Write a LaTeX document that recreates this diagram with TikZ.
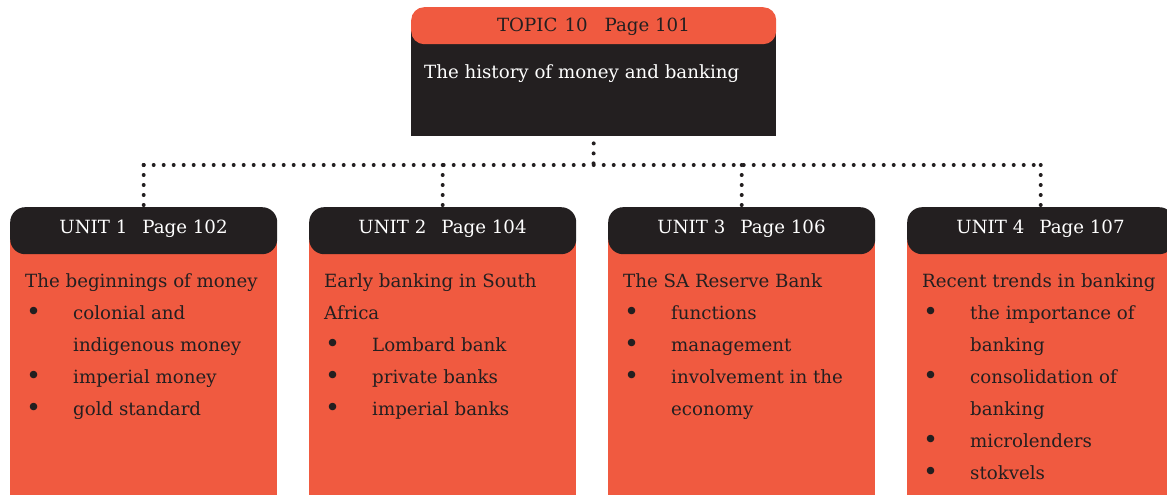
\documentclass[tikz,border=0pt]{standalone}
\usepackage{fontspec}
\setmainfont{DejaVu Serif}
\definecolor{orng}{HTML}{F05A40}
\definecolor{blk}{HTML}{231F20}
\newcommand{\bul}{\makebox[48pt][l]{\hspace{1pt}\raisebox{-1pt}{\scalebox{1.4}{\textbullet}}}}
\newcommand{\cont}{\hspace*{48pt}}
\begin{document}
\begin{tikzpicture}[x=1pt,y=-1pt,
  txt/.style={inner sep=0pt, font=\fontsize{18.2}{32}\selectfont},
  unithead/.style={fill=blk, rounded corners=15pt, minimum width=267pt, minimum height=47pt, anchor=north west, inner sep=0pt},
  unitbody/.style={fill=orng, minimum width=267pt, minimum height=270pt, anchor=north west, inner sep=0pt},
  headtxt/.style={txt, text=white, anchor=base},
  bodytxt/.style={txt, text=blk, anchor=base west, align=left},
  dotline/.style={draw=blk, line width=4pt, line cap=round, dash pattern=on 0pt off 10pt}]
\useasboundingbox (0,0) rectangle (1167,495);
\clip (0,0) rectangle (1167,495);
% topic
\node[fill=blk, minimum width=365pt, minimum height=108pt, anchor=north west, inner sep=0pt] (topicbody) at (411,28) {};
\node[fill=orng, rounded corners=13pt, minimum width=365pt, minimum height=37pt, anchor=north west, inner sep=0pt] (topichead) at (411,7) {};
\node[txt, text=blk, anchor=base] (topiclabel) at (593.5,32) {TOPIC\hspace{7pt}10\hspace{17pt}Page 101};
\node[txt, text=white, anchor=base west] (topictitle) at (424,78) {The history of money and banking};
% units
\foreach \i/\x in {1/10,2/309,3/608,4/907}{
  \node[unitbody] (u\i body) at (\x,235) {};
  \node[unithead] (u\i head) at (\x,207) {};
}
\node[headtxt] (u1label) at (143.5,233) {UNIT 1\hspace{15pt}Page 102};
\node[headtxt] (u2label) at (442.5,233) {UNIT 2\hspace{15pt}Page 104};
\node[headtxt] (u3label) at (741.5,233) {UNIT 3\hspace{15pt}Page 106};
\node[headtxt] (u4label) at (1040.5,233) {UNIT 4\hspace{15pt}Page 107};
% anchor base west = baseline of the last line
\node[bodytxt] (u1text) at (25,415) {The beginnings of money\\ \bul colonial and\\ \cont indigenous money\\ \bul imperial money\\ \bul gold standard};
\node[bodytxt] (u2text) at (324,415) {Early banking in South\\ Africa\\ \bul Lombard bank\\ \bul private banks\\ \bul imperial banks};
\node[bodytxt] (u3text) at (623,415) {The SA Reserve Bank\\ \bul functions\\ \bul management\\ \bul involvement in the\\ \cont economy};
\node[bodytxt] (u4text) at (922,479) {Recent trends in banking\\ \bul the importance of\\ \cont banking\\ \bul consolidation of\\ \cont banking\\ \bul microlenders\\ \bul stokvels};
% connectors
\coordinate (hub) at (593.5,165);
\draw[dotline] (topicbody.south) ++(0,7) -- (hub);
\draw[dotline] (hub -| u1head.north) -- (hub -| u4head.north);
\foreach \i in {1,2,3,4}{
  \draw[dotline] (hub -| u\i head.north) -- ([yshift=-2pt]u\i head.north);
}
\end{tikzpicture}
\end{document}
